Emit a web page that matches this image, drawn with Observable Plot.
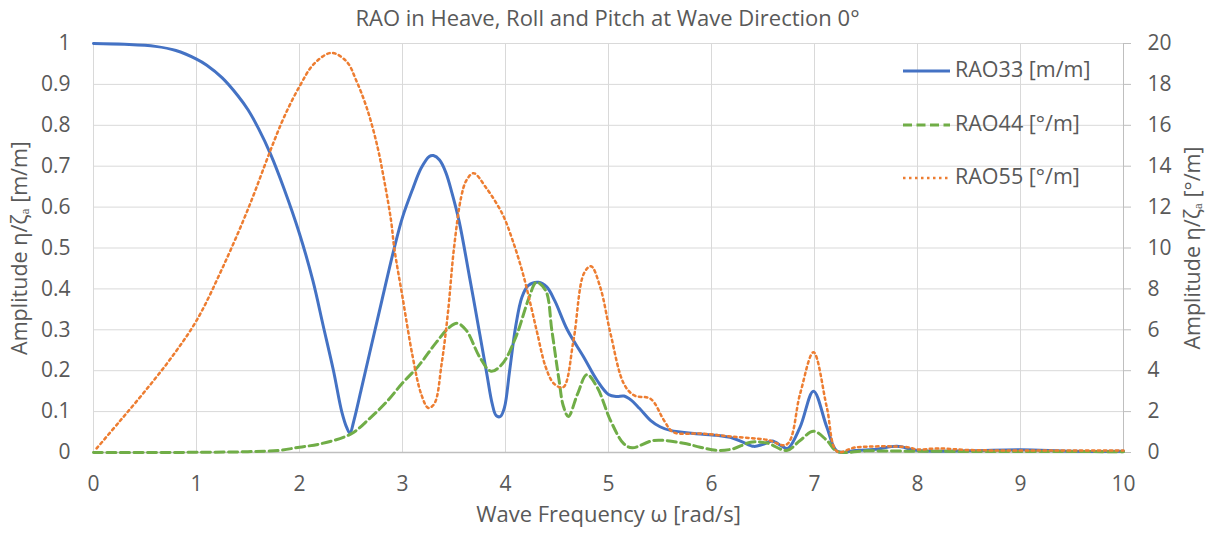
<!DOCTYPE html>
<html><head><meta charset="utf-8">
<script src="https://cdn.jsdelivr.net/npm/d3@7"></script>
<script src="https://cdn.jsdelivr.net/npm/@observablehq/plot@0.6"></script>
<style>
body{margin:0;background:#fff;font-family:"Open Sans",sans-serif;}
#wrap{position:relative;width:1215px;height:534px;overflow:hidden;}
#title{height:34px;line-height:34px;text-align:center;font-size:22px;color:#595959;}
.lg{position:absolute;left:903px;height:26px;line-height:26px;font-size:21.5px;color:#595959;white-space:nowrap;}
.lg svg{vertical-align:middle;margin-right:5px;}
</style></head>
<body><div id="wrap"><div id="title">RAO in Heave, Roll and Pitch at Wave Direction 0°</div><div id="chart"></div></div>
<script>
// Heave RAO33 [m/m] (left axis)
const rao33X = [0,0.3,0.6,0.8,1.0,1.1,1.25,1.4,1.5,1.6,1.72,1.85,2.0,2.13,2.23,2.33,2.41,2.46,2.49,2.53,2.6,2.68,2.8,2.92,3.0,3.1,3.18,3.26,3.3,3.36,3.42,3.48,3.55,3.65,3.75,3.82,3.87,3.91,3.95,3.99,4.04,4.1,4.16,4.22,4.32,4.4,4.48,4.6,4.76,4.89,5.0,5.08,5.15,5.22,5.3,5.41,5.5,5.6,5.85,6.05,6.21,6.3,6.41,6.5,6.59,6.68,6.74,6.86,6.99,7.12,7.22,7.4,7.6,7.8,8.0,8.5,9.0,9.5,10];
const rao33Y = [1.0,0.998,0.993,0.983,0.962,0.947,0.916,0.873,0.838,0.793,0.729,0.645,0.535,0.42,0.31,0.2,0.1,0.06,0.047,0.08,0.155,0.242,0.372,0.5,0.575,0.645,0.695,0.724,0.726,0.715,0.685,0.635,0.565,0.43,0.29,0.19,0.12,0.09,0.088,0.11,0.2,0.31,0.38,0.408,0.416,0.405,0.37,0.3,0.233,0.176,0.142,0.137,0.138,0.128,0.108,0.078,0.063,0.054,0.046,0.042,0.035,0.026,0.015,0.02,0.028,0.016,0.01,0.062,0.15,0.062,0.003,0.005,0.008,0.015,0.005,0.004,0.007,0.003,0.003];
// Roll RAO44 [°/m] (right axis)
const rao44X = [0,0.5,1.0,1.5,1.8,2.0,2.2,2.5,2.68,2.85,3.0,3.15,3.33,3.45,3.53,3.62,3.75,3.86,3.97,4.1,4.23,4.3,4.39,4.45,4.52,4.56,4.61,4.7,4.79,4.89,5.02,5.15,5.23,5.44,5.73,5.89,6.06,6.21,6.38,6.54,6.73,6.86,6.99,7.12,7.22,7.5,8.0,9.0,10];
const rao44Y = [0,0,0.01,0.04,0.1,0.26,0.42,0.91,1.66,2.5,3.4,4.2,5.4,6.1,6.32,5.97,4.66,3.97,4.34,5.64,7.59,8.32,7.92,5.97,3.53,2.3,1.76,2.87,3.81,3.19,1.56,0.42,0.23,0.59,0.45,0.26,0.1,0.18,0.5,0.46,0.1,0.59,1.04,0.59,0.05,0.08,0.06,0.05,0.04];
// Pitch RAO55 [°/m] (right axis)
const rao55X = [0.03,0.25,0.5,0.75,1.0,1.25,1.5,1.72,1.85,2.0,2.14,2.31,2.46,2.55,2.65,2.75,2.83,2.89,2.92,3.0,3.1,3.18,3.25,3.31,3.38,3.44,3.5,3.57,3.62,3.69,3.81,3.97,4.07,4.17,4.25,4.31,4.39,4.47,4.56,4.66,4.76,4.83,4.92,5.02,5.15,5.25,5.41,5.54,5.63,5.89,6.21,6.54,6.73,6.86,6.99,7.12,7.22,7.4,7.9,8.0,8.2,8.5,9.0,10];
const rao55Y = [0.2,1.5,3.0,4.6,6.45,9.0,11.9,14.8,16.4,17.9,19.0,19.54,19.1,18.2,16.9,15.1,13.1,11.3,10.0,7.6,4.66,2.88,2.18,2.39,4.34,6.78,10.0,12.5,13.3,13.66,12.96,11.66,10.36,8.73,7.1,5.8,4.18,3.37,3.19,5.48,8.74,9.11,8.08,5.8,3.35,2.79,2.62,1.56,0.99,0.93,0.77,0.62,0.39,2.87,4.9,2.2,0.05,0.25,0.26,0.15,0.2,0.12,0.1,0.1];

const xTicks = [0,1,2,3,4,5,6,7,8,9,10];
const yTicks = [0,0.1,0.2,0.3,0.4,0.5,0.6,0.7,0.8,0.9,1];
const rightMax = 20;
const series = [
  {name:"RAO33 [m/m]", color:"#4472C4", dash:null, width:3},
  {name:"RAO44 [°/m]", color:"#70AD47", dash:"9,4.5", width:3},
  {name:"RAO55 [°/m]", color:"#ED7D31", dash:"2.5,3.5", width:2.5}
];

const d33 = rao33X.map((x,i)=>({x, y:rao33Y[i]}));
const d44 = rao44X.map((x,i)=>({x, y:rao44Y[i]/rightMax}));
const d55 = rao55X.map((x,i)=>({x, y:rao55Y[i]/rightMax}));
const txt = "#595959", grid = "#d9d9d9", axisC = "#bfbfbf";
const ff = "Open Sans";

const chart = Plot.plot({
  width:1215, height:500,
  marginTop:9, marginBottom:82, marginLeft:93, marginRight:92,
  style:{fontFamily:ff, fontSize:"21px", color:txt, background:"white", overflow:"visible"},
  x:{domain:[0,10]},
  y:{domain:[0,1]},
  marks:[
    Plot.gridY(yTicks,{stroke:grid, strokeOpacity:1}),
    Plot.gridX(xTicks,{stroke:grid, strokeOpacity:1}),
    Plot.ruleY([0],{stroke:axisC, strokeWidth:1.3}),
    Plot.ruleX([10],{stroke:axisC}),
    Plot.axisX(xTicks,{tickSize:0, tickPadding:24, label:null, fill:txt, fontSize:21}),
    Plot.axisY(yTicks,{anchor:"left", tickSize:0, tickPadding:23, label:null, fill:txt, fontSize:21, tickFormat:d=>String(Math.round(d*10)/10)}),
    Plot.axisY(yTicks,{anchor:"right", tickSize:7, tickPadding:17, stroke:axisC, label:null, fill:txt, fontSize:21, tickFormat:d=>String(Math.round(d*rightMax))}),
    Plot.line(d33,{x:"x", y:"y", stroke:series[0].color, strokeWidth:series[0].width, curve:"catmull-rom"}),
    Plot.line(d44,{x:"x", y:"y", stroke:series[1].color, strokeWidth:series[1].width, strokeDasharray:series[1].dash, curve:"catmull-rom"}),
    Plot.line(d55,{x:"x", y:"y", stroke:series[2].color, strokeWidth:series[2].width, strokeDasharray:series[2].dash, curve:"catmull-rom"}),
    Plot.text(["Wave Frequency ω [rad/s]"],{frameAnchor:"bottom", dy:69, text:d=>d, fill:txt, fontSize:22, textAnchor:"middle"}),
    Plot.text(["Amplitude η/ζₐ [m/m]"],{frameAnchor:"left", dx:-73, rotate:-90, text:d=>d, fill:txt, fontSize:21.5, textAnchor:"middle"}),
    Plot.text(["Amplitude η/ζₐ [°/m]"],{frameAnchor:"right", dx:70, rotate:-90, text:d=>d, fill:txt, fontSize:21.5, textAnchor:"middle"})
  ]
});
document.getElementById("chart").appendChild(chart);

const legendY = [69, 123, 176];
const wrap = document.getElementById("wrap");
series.forEach((s,i)=>{
  const div = document.createElement("div");
  div.className = "lg";
  div.style.top = (legendY[i]-13)+"px";
  const dashAttr = s.dash ? ` stroke-dasharray="${s.dash}"` : "";
  div.innerHTML = `<svg width="47" height="6"><line x1="0" y1="3" x2="47" y2="3" stroke="${s.color}" stroke-width="${s.width}"${dashAttr}/></svg>${s.name}`;
  wrap.appendChild(div);
});
</script></body></html>
